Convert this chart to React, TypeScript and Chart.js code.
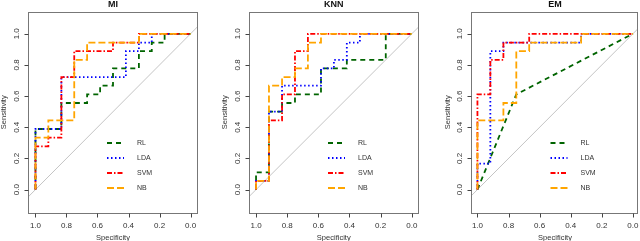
import React, { useEffect, useRef } from "react";
import { Chart, registerables } from "chart.js";

Chart.register(...registerables);

// ---------- data ----------
const seriesNames = ["RL", "LDA", "SVM", "NB"];
const panelTitles = ["MI", "KNN", "EM"];
const tickValues = [0, 0.2, 0.4, 0.6, 0.8, 1.0];
const tickLabels = ["0.0", "0.2", "0.4", "0.6", "0.8", "1.0"];
const xAxisTitle = "Specificity";
const yAxisTitle = "Sensitivity";

// MI panel
const miRLSpec = [1, 1, 0.833, 0.833, 0.667, 0.667, 0.583, 0.583, 0.5, 0.5, 0.333, 0.333, 0.25, 0.25, 0.167, 0.167, 0];
const miRLSens = [0, 0.389, 0.389, 0.556, 0.556, 0.611, 0.611, 0.667, 0.667, 0.778, 0.778, 0.889, 0.889, 0.944, 0.944, 1, 1];
const miLDASpec = [1, 1, 0.833, 0.833, 0.417, 0.417, 0.333, 0.333, 0.25, 0.25, 0];
const miLDASens = [0, 0.389, 0.389, 0.722, 0.722, 0.889, 0.889, 0.944, 0.944, 1, 1];
const miSVMSpec = [1, 1, 0.917, 0.917, 0.833, 0.833, 0.75, 0.75, 0.5, 0.5, 0.333, 0.333, 0];
const miSVMSens = [0, 0.278, 0.278, 0.333, 0.333, 0.722, 0.722, 0.889, 0.889, 0.944, 0.944, 1, 1];
const miNBSpec = [1, 1, 0.917, 0.917, 0.75, 0.75, 0.667, 0.667, 0.333, 0.333, 0];
const miNBSens = [0, 0.333, 0.333, 0.444, 0.444, 0.833, 0.833, 0.944, 0.944, 1, 1];

// KNN panel
const knnRLSpec = [1, 1, 0.917, 0.917, 0.833, 0.833, 0.75, 0.75, 0.583, 0.583, 0.417, 0.417, 0.167, 0.167, 0];
const knnRLSens = [0, 0.111, 0.111, 0.5, 0.5, 0.556, 0.556, 0.611, 0.611, 0.778, 0.778, 0.833, 0.833, 1, 1];
const knnLDASpec = [1, 1, 0.917, 0.917, 0.833, 0.833, 0.583, 0.583, 0.5, 0.5, 0.417, 0.417, 0.333, 0.333, 0];
const knnLDASens = [0, 0.056, 0.056, 0.5, 0.5, 0.667, 0.667, 0.778, 0.778, 0.833, 0.833, 0.944, 0.944, 1, 1];
const knnSVMSpec = [1, 1, 0.917, 0.917, 0.833, 0.833, 0.75, 0.75, 0.667, 0.667, 0];
const knnSVMSens = [0, 0.056, 0.056, 0.444, 0.444, 0.611, 0.611, 0.889, 0.889, 1, 1];
const knnNBSpec = [1, 1, 0.917, 0.917, 0.833, 0.833, 0.75, 0.75, 0.667, 0.667, 0.583, 0.583, 0];
const knnNBSens = [0, 0.056, 0.056, 0.667, 0.667, 0.722, 0.722, 0.778, 0.778, 0.944, 0.944, 1, 1];

// EM panel
const emRLSpec = [1, 0.75, 0];
const emRLSens = [0, 0.611, 1];
const emLDASpec = [1, 1, 0.917, 0.917, 0.833, 0.833, 0.333, 0.333, 0];
const emLDASens = [0, 0.167, 0.167, 0.889, 0.889, 0.944, 0.944, 1, 1];
const emSVMSpec = [1, 1, 0.917, 0.917, 0.833, 0.833, 0.667, 0.667, 0];
const emSVMSens = [0, 0.611, 0.611, 0.833, 0.833, 0.944, 0.944, 1, 1];
const emNBSpec = [1, 1, 0.833, 0.833, 0.75, 0.75, 0.667, 0.667, 0.333, 0.333, 0];
const emNBSens = [0, 0.444, 0.444, 0.556, 0.556, 0.889, 0.889, 0.944, 0.944, 1, 1];

const chanceSpec = [1.3, -0.3];
const chanceSens = [-0.3, 1.3];

const panelData = [
  [[miRLSpec, miRLSens], [miLDASpec, miLDASens], [miSVMSpec, miSVMSens], [miNBSpec, miNBSens]],
  [[knnRLSpec, knnRLSens], [knnLDASpec, knnLDASens], [knnSVMSpec, knnSVMSens], [knnNBSpec, knnNBSens]],
  [[emRLSpec, emRLSens], [emLDASpec, emLDASens], [emSVMSpec, emSVMSens], [emNBSpec, emNBSens]],
];

// ---------- layout & style ----------
const W = 640;
const H = 241;
const panelBoxes = [
  { left: 28.5, right: 197.5, top: 12, bottom: 212.5, xMin: -0.045, xMax: 1.045 },
  { left: 249.5, right: 418, top: 12, bottom: 212.5, xMin: -0.04, xMax: 1.042 },
  { left: 472, right: 638, top: 12, bottom: 212.5, xMin: -0.033, xMax: 1.035 },
];
const yMin = -0.147;
const yMax = 1.14;

const seriesColors = ["#006400", "#0000FF", "#FF0000", "#FFA500"];
const seriesDashes = [[5, 4], [1.5, 2.5], [5, 2, 1.5, 2], [7, 3]];
const FONT = '"Liberation Sans", Arial, sans-serif';

const rAxesPlugin = {
  id: "rAxes",
  afterDraw(chart: any) {
    const opts = chart.options.plugins.rAxes;
    const ctx = chart.ctx as CanvasRenderingContext2D;
    const xs = chart.scales.x;
    const ys = chart.scales.y;
    const { left, right, top, bottom } = chart.chartArea;
    ctx.save();
    // box
    ctx.strokeStyle = "#777";
    ctx.lineWidth = 1;
    ctx.setLineDash([]);
    ctx.strokeRect(Math.round(left) - 0.5, Math.round(top) + 0.5, Math.round(right - left), Math.round(bottom - top));
    // ticks
    ctx.strokeStyle = "#444";
    ctx.beginPath();
    tickValues.forEach((v) => {
      const px = Math.round(xs.getPixelForValue(v)) + 0.5;
      ctx.moveTo(px, Math.round(bottom) + 0.5);
      ctx.lineTo(px, Math.round(bottom) + 4.5);
      const py = Math.round(ys.getPixelForValue(v)) + 0.5;
      ctx.moveTo(Math.round(left) - 0.5, py);
      ctx.lineTo(Math.round(left) - 4.5, py);
    });
    ctx.stroke();
    // tick labels
    ctx.fillStyle = "#333";
    ctx.font = `8px ${FONT}`;
    ctx.textAlign = "center";
    ctx.textBaseline = "alphabetic";
    tickValues.forEach((v, i) => {
      ctx.fillText(tickLabels[i], xs.getPixelForValue(v), 227.5);
    });
    tickValues.forEach((v, i) => {
      ctx.save();
      ctx.translate(left - 10, ys.getPixelForValue(v));
      ctx.rotate(-Math.PI / 2);
      ctx.fillText(tickLabels[i], 0, 0);
      ctx.restore();
    });
    // axis titles
    ctx.font = `7.5px ${FONT}`;
    const cx = (left + right) / 2;
    const cy = (top + bottom) / 2;
    ctx.fillText(xAxisTitle, cx, 239.5);
    ctx.save();
    ctx.translate(left - 22.5, cy);
    ctx.rotate(-Math.PI / 2);
    ctx.fillText(yAxisTitle, 0, 0);
    ctx.restore();
    // title
    ctx.fillStyle = "#111";
    ctx.font = `bold 9px ${FONT}`;
    ctx.fillText(opts.title, cx, 6.5);
    // legend
    ctx.font = `7px ${FONT}`;
    ctx.textAlign = "left";
    ctx.textBaseline = "middle";
    seriesNames.forEach((name, i) => {
      const ry = top + 131 + i * 15;
      const lx = left + 78.5;
      ctx.strokeStyle = seriesColors[i];
      ctx.lineWidth = 1.8;
      ctx.setLineDash(seriesDashes[i]);
      ctx.beginPath();
      ctx.moveTo(lx, ry);
      ctx.lineTo(lx + 17, ry);
      ctx.stroke();
      ctx.setLineDash([]);
      ctx.fillStyle = "#333";
      ctx.fillText(name, lx + 30, ry + 0.5);
    });
    ctx.restore();
  },
};

function Panel({ index }: { index: number }) {
  const ref = useRef<HTMLCanvasElement | null>(null);
  useEffect(() => {
    const box = panelBoxes[index];
    const series = panelData[index];
    const datasets: any[] = series.map(([spec, sens], i) => ({
      label: seriesNames[i],
      data: spec.map((s, k) => ({ x: s, y: sens[k] })),
      borderColor: seriesColors[i],
      borderDash: seriesDashes[i],
      borderWidth: 1.8,
      pointRadius: 0,
      fill: false,
      tension: 0,
      order: 4 - i,
    }));
    datasets.push({
      label: "chance",
      data: chanceSpec.map((s, k) => ({ x: s, y: chanceSens[k] })),
      borderColor: "#c4c4c4",
      borderWidth: 1,
      pointRadius: 0,
      fill: false,
      order: 10,
    });
    const chart = new Chart(ref.current as HTMLCanvasElement, {
      type: "line",
      data: { datasets },
      options: {
        responsive: false,
        animation: false,
        events: [],
        layout: {
          padding: { left: box.left, right: W - box.right, top: box.top, bottom: H - box.bottom },
        },
        scales: {
          x: { type: "linear", reverse: true, min: box.xMin, max: box.xMax, display: false },
          y: { type: "linear", min: yMin, max: yMax, display: false },
        },
        plugins: {
          legend: { display: false },
          tooltip: { enabled: false },
          rAxes: { title: panelTitles[index] },
        } as any,
      },
      plugins: [rAxesPlugin],
    });
    return () => chart.destroy();
  }, [index]);
  return (
    <canvas
      ref={ref}
      width={W}
      height={H}
      style={{ position: "absolute", left: 0, top: 0, width: W, height: H }}
    />
  );
}

export default function App() {
  useEffect(() => {
    document.body.style.margin = "0";
  }, []);
  return (
    <div style={{ position: "relative", width: W, height: H, background: "#fff", overflow: "hidden" }}>
      {panelTitles.map((_, i) => (
        <Panel key={i} index={i} />
      ))}
    </div>
  );
}
